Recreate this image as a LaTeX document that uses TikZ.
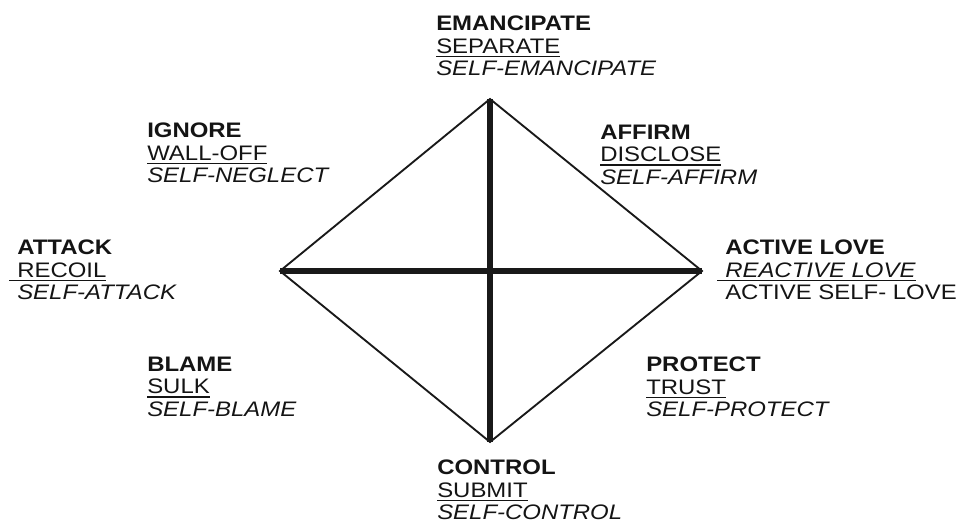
\documentclass[tikz,border=0pt]{standalone}
\usepackage{fontspec}
\setmainfont[FakeStretch=1.14]{Liberation Sans}
\usepackage{tikz}

% underlined word, #1 = how far the rule runs out to the left
\newcommand{\ulword}[2][0pt]{\setbox0=\hbox{#2}%
  \llap{\rule[-3pt]{#1}{1.2pt}}\rlap{\rule[-3pt]{\wd0}{1.2pt}}\box0}

\begin{document}
\begin{tikzpicture}[x=0.75pt,y=-0.75pt,
  lbl/.style={anchor=north west, inner sep=0pt, align=left,
    text=black!92, font=\fontsize{15.75}{16.7}\selectfont}]
  \useasboundingbox (0,0) rectangle (967,524);

  % corners of the diamond
  \coordinate (top) at (490,99);
  \coordinate (bottom) at (490,442);
  \coordinate (left) at (280,271);
  \coordinate (right) at (702,271);

  \draw[line width=1.4pt, line join=miter, black!90] (top) -- (right) -- (bottom) -- (left) -- cycle;
  \draw[line width=3.8pt, black!90] (top) -- (bottom);
  \draw[line width=3.8pt, black!90] (left) -- (right);

  \node[lbl] (emancipate) at (436,16) {\textbf{EMANCIPATE}\\ \ulword{SEPARATE}\\ \textit{SELF-EMANCIPATE}};
  \node[lbl] (ignore) at (147,123) {\textbf{IGNORE}\\ \ulword{WALL-OFF}\\ \textit{SELF-NEGLECT}};
  \node[lbl] (affirm) at (600,125) {\textbf{AFFIRM}\\ \ulword{DISCLOSE}\\ \textit{SELF-AFFIRM}};
  \node[lbl] (attack) at (17,240) {\textbf{ATTACK}\\ \ulword[6pt]{RECOIL}\\ \textit{SELF-ATTACK}};
  \node[lbl] (activelove) at (725,240) {\textbf{ACTIVE LOVE}\\ \ulword[6pt]{\textit{REACTIVE LOVE}}\\ ACTIVE SELF- LOVE};
  \node[lbl] (blame) at (147,357) {\textbf{BLAME}\\ \ulword{SULK}\\ \textit{SELF-BLAME}};
  \node[lbl] (protect) at (646,357) {\textbf{PROTECT}\\ \ulword{TRUST}\\ \textit{SELF-PROTECT}};
  \node[lbl] (control) at (437,460) {\textbf{CONTROL}\\ \ulword{SUBMIT}\\ \textit{SELF-CONTROL}};
\end{tikzpicture}
\end{document}
